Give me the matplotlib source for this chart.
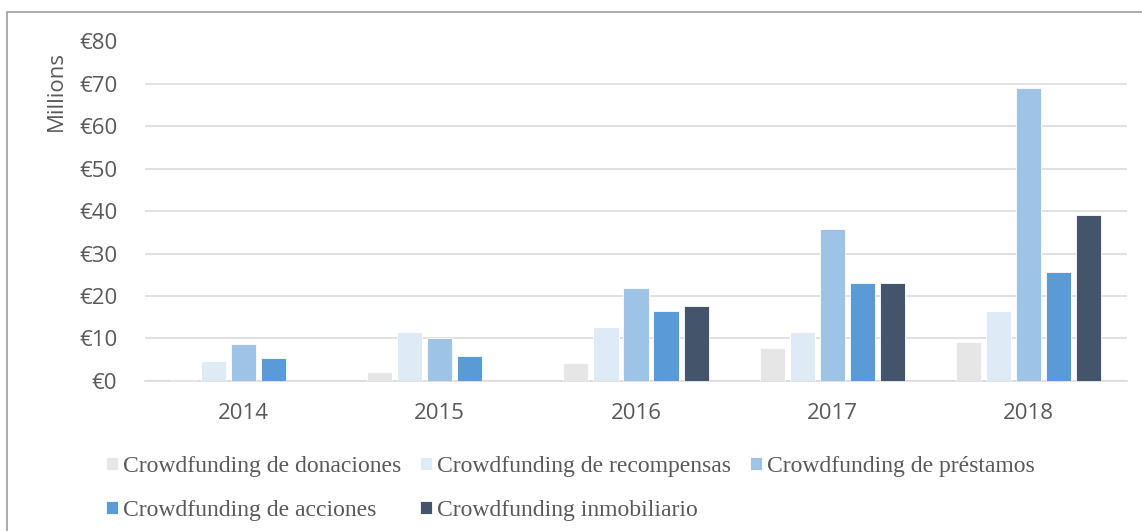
import matplotlib
matplotlib.use("Agg")
import numpy as np
import matplotlib.pyplot as plt
from matplotlib.patches import Rectangle

# values in millions of euros
years = ["2014", "2015", "2016", "2017", "2018"]
donaciones = [0.3, 2.0, 4.2, 7.7, 9.2]
recompensas = [4.6, 11.5, 12.7, 11.5, 16.5]
prestamos = [8.6, 10.0, 21.8, 35.8, 69.1]
acciones = [5.4, 5.9, 16.4, 23.1, 25.6]
inmobiliario = [0.0, 0.0, 17.7, 23.1, 39.0]

series_names = ["Crowdfunding de donaciones", "Crowdfunding de recompensas",
                "Crowdfunding de préstamos", "Crowdfunding de acciones",
                "Crowdfunding inmobiliario"]
series_colors = ["#E7E6E6", "#DEEBF7", "#9DC3E6", "#5B9BD5", "#44546A"]
yticks = [0, 10, 20, 30, 40, 50, 60, 70, 80]

W, H = 1142, 531
fig = plt.figure(figsize=(W / 100, H / 100), dpi=100)
ax = fig.add_axes([145 / W, 1 - 380.7 / H, (1127 - 145) / W, (380.7 - 41.5) / H])

text_color = "#595959"
grid_color = "#D9D9D9"

x = np.arange(len(years))
pitch = 0.153
bar_w = 0.128
all_series = [donaciones, recompensas, prestamos, acciones, inmobiliario]
bars = []
for i, (vals, name, col) in enumerate(zip(all_series, series_names, series_colors)):
    b = ax.bar(x + (i - 2) * pitch, vals, width=bar_w, color=col,
               edgecolor="white", linewidth=0.6, label=name, zorder=3)
    bars.append(b)

ax.set_xlim(-0.5, len(years) - 0.5)
ax.set_ylim(0, 80)
ax.set_yticks(yticks)
ax.set_yticklabels([f"€{v}" for v in yticks])
ax.set_xticks(x)
ax.set_xticklabels(years)

ax.grid(axis="y", color=grid_color, linewidth=1.1, zorder=0)
for s in ["top", "right", "left"]:
    ax.spines[s].set_visible(False)
ax.spines["bottom"].set_color(grid_color)
ax.spines["bottom"].set_linewidth(1.1)
ax.spines["bottom"].set_zorder(2)

tick_font = {"family": "Open Sans", "size": 16}
ax.tick_params(axis="y", length=0, pad=20, labelcolor=text_color, labelsize=16)
ax.tick_params(axis="x", length=0, pad=16, labelcolor=text_color, labelsize=16)
for lab in ax.get_xticklabels() + ax.get_yticklabels():
    lab.set_fontfamily("Open Sans")

ax.set_ylabel("Millions", fontdict=tick_font, color=text_color)
ax.yaxis.set_label_coords((67 - 145) / (1127 - 145), (380.7 - 91) / (380.7 - 41.5))

# legend laid out row by row like the original (matplotlib fills by column)
order = [0, 3, 1, 4, 2]
leg = fig.legend([bars[i] for i in order], [series_names[i] for i in order],
                 ncol=3, loc="upper left", bbox_to_anchor=(106 / W, 1 - 456 / H),
                 frameon=False, borderpad=0, borderaxespad=0,
                 handlelength=0.5, handleheight=0.5, handletextpad=0.22,
                 columnspacing=0.8, labelspacing=0.98,
                 prop={"family": "Liberation Serif", "size": 17})
for t in leg.get_texts():
    t.set_color(text_color)

# outer frame of the chart area (runs off the right and bottom edges)
fig.add_artist(Rectangle((7 / W, -0.1), 1.2, 1.1 - 12.5 / H, transform=fig.transFigure,
                         fill=False, edgecolor="#A6A6A6", linewidth=1.3))

fig.savefig("out.png", dpi=100)
